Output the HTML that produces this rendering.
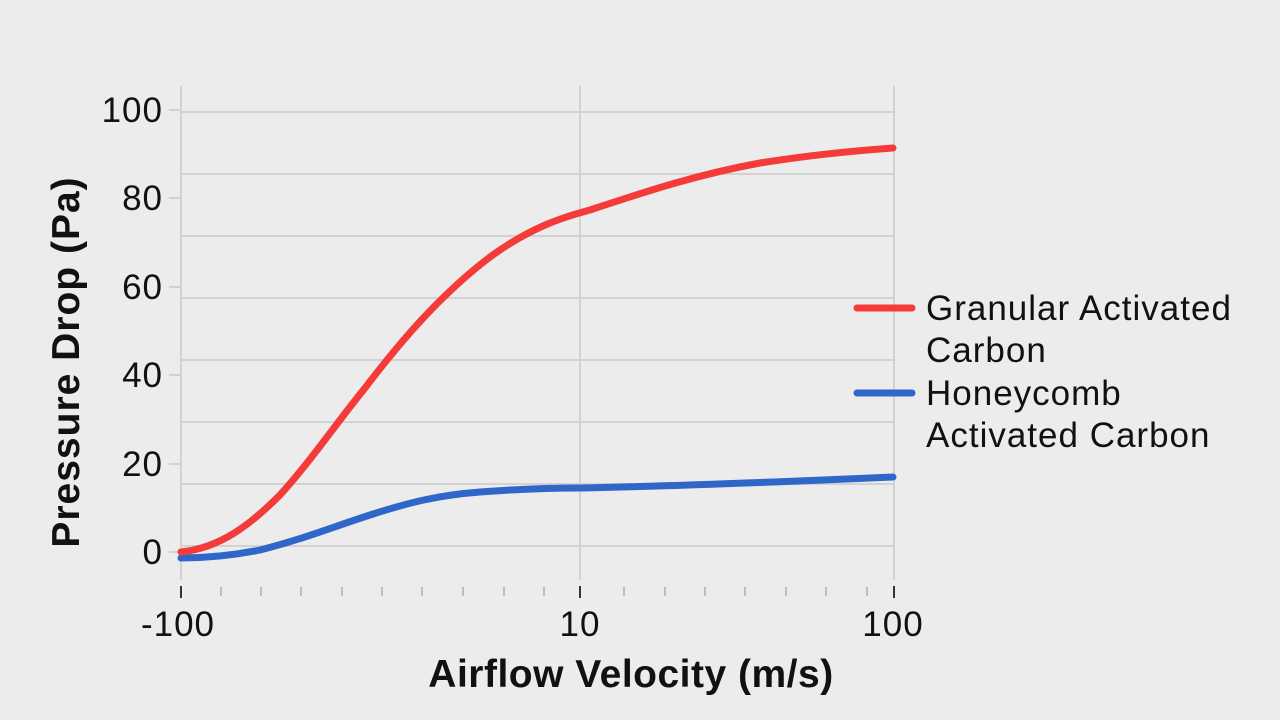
<!DOCTYPE html>
<html><head><meta charset="utf-8"><style>
html,body{margin:0;padding:0;background:#ececec;}
svg{display:block;font-family:"Liberation Sans",sans-serif;}
</style></head><body>
<svg width="1280" height="720" viewBox="0 0 1280 720">
<rect width="1280" height="720" fill="#ececec"/>
<g stroke="#d2d2d2" stroke-width="2" fill="none">
<line x1="181" y1="112" x2="894" y2="112"/>
<line x1="181" y1="174" x2="894" y2="174"/>
<line x1="181" y1="236" x2="894" y2="236"/>
<line x1="181" y1="298" x2="894" y2="298"/>
<line x1="181" y1="360" x2="894" y2="360"/>
<line x1="181" y1="422" x2="894" y2="422"/>
<line x1="181" y1="484" x2="894" y2="484"/>
<line x1="181" y1="546" x2="894" y2="546"/>
<line x1="181" y1="86" x2="181" y2="580"/>
<line x1="580" y1="86" x2="580" y2="580"/>
<line x1="894" y1="86" x2="894" y2="580"/>
<line x1="169" y1="110" x2="181" y2="110"/>
<line x1="169" y1="198" x2="181" y2="198"/>
<line x1="169" y1="287" x2="181" y2="287"/>
<line x1="169" y1="375" x2="181" y2="375"/>
<line x1="169" y1="464" x2="181" y2="464"/>
<line x1="169" y1="552" x2="181" y2="552"/>
</g>
<g stroke="#bdbdbd" stroke-width="2">
<line x1="221" y1="587" x2="221" y2="596"/><line x1="261" y1="587" x2="261" y2="596"/>
<line x1="301" y1="587" x2="301" y2="596"/><line x1="342" y1="587" x2="342" y2="596"/>
<line x1="382" y1="587" x2="382" y2="596"/><line x1="422" y1="587" x2="422" y2="596"/>
<line x1="463" y1="587" x2="463" y2="596"/><line x1="504" y1="587" x2="504" y2="596"/>
<line x1="544" y1="587" x2="544" y2="596"/><line x1="624" y1="587" x2="624" y2="596"/>
<line x1="665" y1="587" x2="665" y2="596"/><line x1="705" y1="587" x2="705" y2="596"/>
<line x1="745" y1="587" x2="745" y2="596"/><line x1="786" y1="587" x2="786" y2="596"/>
<line x1="826" y1="587" x2="826" y2="596"/><line x1="867" y1="587" x2="867" y2="596"/>
</g>
<g stroke="#333" stroke-width="2">
<line x1="181" y1="586" x2="181" y2="598"/><line x1="580" y1="586" x2="580" y2="598"/><line x1="894" y1="586" x2="894" y2="598"/>
</g>
<g font-size="35" fill="#111" text-anchor="end" letter-spacing="1">
<text x="163" y="122">100</text><text x="163" y="210">80</text><text x="163" y="299">60</text>
<text x="163" y="387">40</text><text x="163" y="476">20</text><text x="163" y="564">0</text>
</g>
<g font-size="35" fill="#111" text-anchor="middle" letter-spacing="1">
<text x="178" y="636">-100</text><text x="580" y="636">10</text><text x="893" y="636">100</text>
</g>
<text x="631" y="687" font-size="39" font-weight="bold" fill="#111" text-anchor="middle" letter-spacing="0.5">Airflow Velocity (m/s)</text>
<text transform="translate(79,362) rotate(-90)" font-size="39" font-weight="bold" fill="#111" text-anchor="middle" letter-spacing="1">Pressure Drop (Pa)</text>
<path d="M181,558 C210,558 235,555 260,550 C300,540 330,528 370,515 C410,502 440,495 480,492 C520,489 550,488 580,488 C680,486 780,482 893,477" fill="none" stroke="#2f66c9" stroke-width="7" stroke-linecap="round"/>
<path d="M181,552 C220,548 250,525 280,495 C310,462 335,425 365,388 C400,342 440,295 490,257 C530,228 560,218 590,210 C650,190 700,174 760,163 C810,155 850,151 893,148" fill="none" stroke="#f53a3a" stroke-width="7" stroke-linecap="round"/>
<line x1="857" y1="308" x2="912" y2="308" stroke="#f53a3a" stroke-width="7" stroke-linecap="round"/>
<line x1="857" y1="393" x2="912" y2="393" stroke="#2f66c9" stroke-width="7" stroke-linecap="round"/>
<g font-size="35" fill="#111" letter-spacing="1">
<text x="926" y="320">Granular Activated</text><text x="926" y="362">Carbon</text>
<text x="926" y="405">Honeycomb</text><text x="926" y="447">Activated Carbon</text>
</g>
</svg>
</body></html>
